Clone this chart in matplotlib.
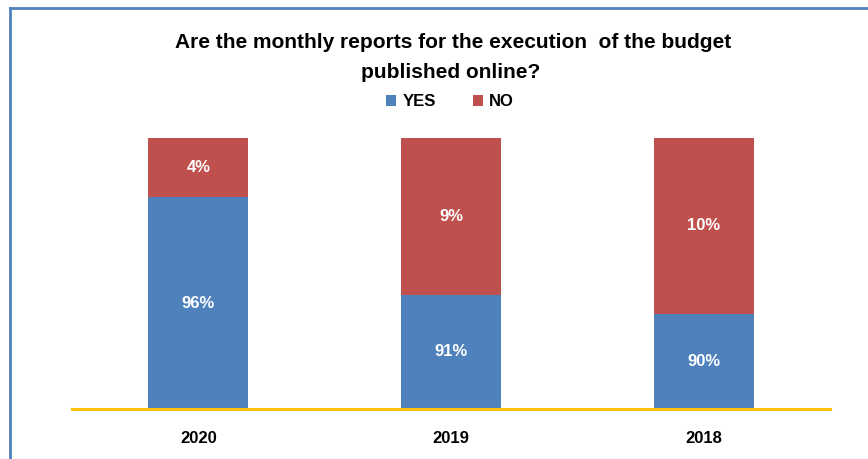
import matplotlib.pyplot as plt
from matplotlib.lines import Line2D

years = ['2020', '2019', '2018']
# bar segment heights as drawn (share of bar height)
yes_height = [78.2, 42.1, 35.1]
no_height = [21.8, 57.9, 64.9]
# labels printed on the bars
yes_labels = ['96%', '91%', '90%']
no_labels = ['4%', '9%', '10%']

blue = '#4F81BD'
red = '#C0504D'
gold = '#FFC000'

plt.rcParams['font.family'] = ['Liberation Sans', 'DejaVu Sans']

fig = plt.figure(figsize=(8.68, 4.59), dpi=100)
ax = fig.add_axes([72 / 868, 50 / 459, 758 / 868, 271 / 459])

x = range(len(years))
w = 0.396
ax.bar(x, yes_height, width=w, color=blue, label='YES')
ax.bar(x, no_height, width=w, bottom=yes_height, color=red, label='NO')

for i in x:
    ax.text(i, yes_height[i] / 2, yes_labels[i], ha='center', va='center',
            color='white', fontsize=12, fontweight='bold')
    ax.text(i, yes_height[i] + no_height[i] / 2, no_labels[i], ha='center', va='center',
            color='white', fontsize=12, fontweight='bold')

ax.set_xlim(-0.5, 2.5)
ax.set_ylim(0, 100)
ax.set_xticks(list(x))
ax.set_xticklabels(years, fontsize=12, fontweight='bold')
ax.tick_params(axis='x', length=0, pad=16)
ax.set_yticks([])
for s in ['top', 'right', 'left']:
    ax.spines[s].set_visible(False)
ax.spines['bottom'].set_color(gold)
ax.spines['bottom'].set_linewidth(2.2)

fig.text(453 / 868, 1 - 42 / 459, 'Are the monthly reports for the execution  of the budget',
         ha='center', va='center', fontsize=15, fontweight='bold')
fig.text(451 / 868, 1 - 72 / 459, 'published online?',
         ha='center', va='center', fontsize=15, fontweight='bold')

fig.legend(loc='center', bbox_to_anchor=(450 / 868, 1 - 102 / 459), ncol=2, frameon=False,
           prop={'size': 12, 'weight': 'bold'}, handlelength=0.6, handleheight=0.6,
           handletextpad=0.4, columnspacing=2.2)

# outer frame (left and top edges visible)
fig.add_artist(Line2D([10 / 868, 10 / 868], [0, 1 - 8 / 459], color=blue, lw=2,
                      transform=fig.transFigure))
fig.add_artist(Line2D([10 / 868, 1], [1 - 8 / 459, 1 - 8 / 459], color=blue, lw=2,
                      transform=fig.transFigure))

fig.savefig('out.png', dpi=100)
